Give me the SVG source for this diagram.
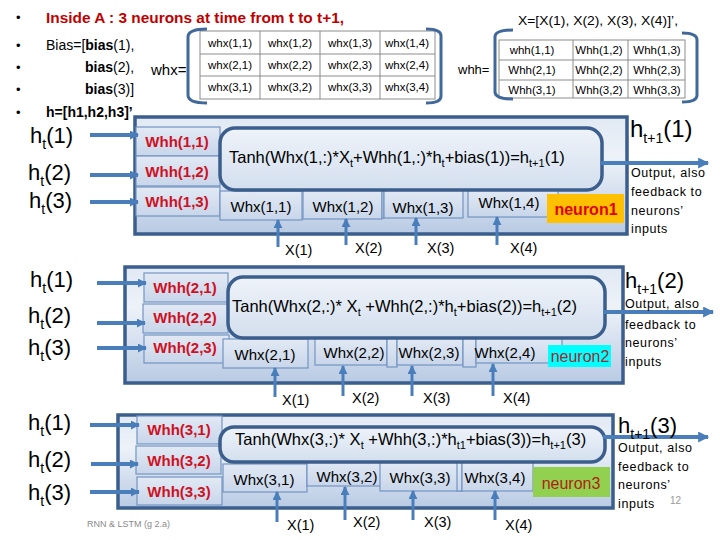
<svg xmlns="http://www.w3.org/2000/svg" width="720" height="540" viewBox="0 0 720 540">
<defs>
<linearGradient id="boxg" x1="0" y1="0" x2="0" y2="1">
<stop offset="0" stop-color="#E1E9F4"/><stop offset="0.35" stop-color="#EDF2F8"/><stop offset="1" stop-color="#B8CAE3"/>
</linearGradient>
<linearGradient id="rrg" x1="0" y1="0" x2="0" y2="1">
<stop offset="0" stop-color="#EEF3F9"/><stop offset="1" stop-color="#D3DFEE"/>
</linearGradient>
<linearGradient id="cellg" x1="0" y1="0" x2="0" y2="1">
<stop offset="0" stop-color="#E2E9F4"/><stop offset="1" stop-color="#C8D6EA"/>
</linearGradient>
<marker id="ah" viewBox="0 0 10 10" refX="9" refY="5" markerWidth="9" markerHeight="9" markerUnits="userSpaceOnUse" orient="auto"><path d="M0,0 L10,5 L0,10 z" fill="#4A7EBB"/></marker>
<marker id="ahL" viewBox="0 0 10 10" refX="9" refY="5" markerWidth="13" markerHeight="11" markerUnits="userSpaceOnUse" orient="auto"><path d="M0,0 L10,5 L0,10 z" fill="#4A7EBB"/></marker>
<style>
text{font-family:"Liberation Sans",Arial,sans-serif;fill:#000}
.hd{font-size:14px}
.b{font-weight:bold}
.mt{font-size:11.5px;text-anchor:middle}
.mx{fill:#fff;stroke:#8C8C8C;stroke-width:1}
.brk{fill:none;stroke:#41689A;stroke-width:3}
.box{fill:url(#boxg);stroke:#3B5E8C;stroke-width:3.5}
.rr{fill:url(#rrg);stroke:#3B5E8C;stroke-width:3.5}
.cell{fill:url(#cellg);stroke:#7394C2;stroke-width:1.2}
.whh{font-size:15px;font-weight:bold;fill:#D0101E;text-anchor:middle}
.whx{font-size:15px;text-anchor:middle}
.tanh{font-size:16.5px}
.sub{font-size:11px}
.ht{font-size:22px}
.hs{font-size:14px}
.ho{font-size:24px}
.out{font-size:12.5px;letter-spacing:0.6px}
.xl{font-size:14.5px}
.nl{font-size:16px;font-weight:bold;text-anchor:middle}
.arr{stroke:#4A7EBB;stroke-width:4;fill:none}
.arrx{stroke:#4A7EBB;stroke-width:3;fill:none}
</style>
</defs>
<rect width="720" height="540" fill="#fff"/>

<g id="header">
<text x="16" y="22" font-size="13">•</text>
<text x="16" y="50" font-size="13">•</text>
<text x="16" y="72" font-size="13">•</text>
<text x="16" y="94" font-size="13">•</text>
<text x="16" y="117" font-size="13">•</text>
<text x="46" y="23" font-size="15" font-weight="bold" style="fill:#C00000" textLength="298" lengthAdjust="spacingAndGlyphs">Inside A : 3 neurons at time from t to t+1,</text>
<text x="46" y="50" class="hd">Bias=[<tspan class="b">bias</tspan>(1),</text>
<text x="85" y="72" class="hd"><tspan class="b">bias</tspan>(2),</text>
<text x="85" y="94" class="hd"><tspan class="b">bias</tspan>(3)]</text>
<text x="46" y="117" class="hd b">h=[h1,h2,h3]’</text>
<text x="518" y="25" font-size="13" textLength="160" lengthAdjust="spacingAndGlyphs">X=[X(1), X(2), X(3), X(4)]’,</text>
</g>

<g id="matrix-whx">
<text x="151" y="75" font-size="15">whx=</text>
<rect x="200" y="31" width="235" height="68" class="mx"/>
<line x1="200" y1="54" x2="435" y2="54" stroke="#8C8C8C"/>
<line x1="200" y1="76" x2="435" y2="76" stroke="#8C8C8C"/>
<line x1="260" y1="31" x2="260" y2="99" stroke="#8C8C8C"/>
<line x1="320" y1="31" x2="320" y2="99" stroke="#8C8C8C"/>
<line x1="380" y1="31" x2="380" y2="99" stroke="#8C8C8C"/>
<text class="mt" x="230" y="47">whx(1,1)</text><text class="mt" x="290" y="47">whx(1,2)</text><text class="mt" x="350" y="47">whx(1,3)</text><text class="mt" x="407" y="47">whx(1,4)</text>
<text class="mt" x="230" y="69">whx(2,1)</text><text class="mt" x="290" y="69">whx(2,2)</text><text class="mt" x="350" y="69">whx(2,3)</text><text class="mt" x="407" y="69">whx(2,4)</text>
<text class="mt" x="230" y="91">whx(3,1)</text><text class="mt" x="290" y="91">whx(3,2)</text><text class="mt" x="350" y="91">whx(3,3)</text><text class="mt" x="407" y="91">whx(3,4)</text>
<path class="brk" d="M207,29 Q188,29 188,37 L188,95 Q188,103 207,103"/>
<path class="brk" d="M426,29 Q441,29 441,36 L441,96 Q441,103 426,103"/>
</g>

<g id="matrix-whh">
<text x="458" y="74" font-size="13">whh=</text>
<rect x="499" y="40" width="186" height="58" class="mx"/>
<line x1="499" y1="60" x2="685" y2="60" stroke="#8C8C8C"/>
<line x1="499" y1="80" x2="685" y2="80" stroke="#8C8C8C"/>
<line x1="573" y1="40" x2="573" y2="98" stroke="#8C8C8C"/>
<line x1="628" y1="40" x2="628" y2="98" stroke="#8C8C8C"/>
<text class="mt" x="532" y="54">whh(1,1)</text><text class="mt" x="599" y="54">Whh(1,2)</text><text class="mt" x="657" y="54">Whh(1,3)</text>
<text class="mt" x="532" y="74">Whh(2,1)</text><text class="mt" x="599" y="74">Whh(2,2)</text><text class="mt" x="657" y="74">Whh(2,3)</text>
<text class="mt" x="532" y="94">Whh(3,1)</text><text class="mt" x="599" y="94">Whh(3,2)</text><text class="mt" x="657" y="94">Whh(3,3)</text>
<path class="brk" d="M513,30 Q495,30 495,37 L495,92 Q495,99 513,99"/>
<path class="brk" d="M682,33 Q697,33 697,40 L697,95 Q697,102 682,102"/>
</g>

<g id="neuron1">
<rect x="135" y="117" width="492" height="117" class="box"/>
<rect x="136" y="127" width="84" height="29" class="cell"/>
<rect x="136" y="156" width="84" height="30" class="cell"/>
<rect x="136" y="187" width="84" height="29" class="cell"/>
<rect x="220" y="191" width="82" height="29" class="cell"/>
<rect x="303" y="190" width="79" height="29" class="cell"/>
<rect x="382" y="190" width="2" height="28" class="cell"/>
<rect x="384" y="190" width="79" height="28" class="cell"/>
<rect x="468" y="190" width="90" height="27" class="cell"/>
<rect x="220" y="128" width="382" height="62" rx="15" class="rr"/>
<rect x="547" y="194" width="77" height="29" fill="#FFC000"/>
<text class="whh" x="177" y="147">Whh(1,1)</text>
<text class="whh" x="177" y="177">Whh(1,2)</text>
<text class="whh" x="177" y="207">Whh(1,3)</text>
<text class="whx" x="261" y="212">Whx(1,1)</text>
<text class="whx" x="343" y="212">Whx(1,2)</text>
<text class="whx" x="423" y="213">Whx(1,3)</text>
<text class="whx" x="509" y="208">Whx(1,4)</text>
<text class="nl" x="586" y="215" style="fill:#E00000">neuron1</text>
<text x="229" y="163" class="tanh">Tanh(Whx(1,:)*X<tspan class="sub" dy="4">t</tspan><tspan dy="-4">+Whh(1,:)*h</tspan><tspan class="sub" dy="4">t</tspan><tspan dy="-4">+bias(1))=h</tspan><tspan class="sub" dy="4">t+1</tspan><tspan dy="-4">(1)</tspan></text>
</g>

<g id="neuron2">
<rect x="125" y="267" width="498" height="116" class="box"/>
<rect x="144" y="273" width="84" height="29" class="cell"/>
<rect x="143" y="304" width="85" height="29" class="cell"/>
<rect x="144" y="335" width="85" height="28" class="cell"/>
<rect x="223" y="339" width="85" height="29" class="cell"/>
<rect x="315" y="338" width="72" height="27" class="cell"/>
<rect x="387" y="338" width="10" height="29" class="cell"/>
<rect x="397" y="338" width="66" height="27" class="cell"/>
<rect x="463" y="338" width="13" height="29" class="cell"/>
<rect x="476" y="338" width="86" height="25" class="cell"/>
<rect x="228" y="277" width="377" height="61" rx="15" class="rr"/>
<rect x="548" y="345" width="63" height="22" fill="#00FFFF"/>
<text class="whh" x="185" y="293">Whh(2,1)</text>
<text class="whh" x="185" y="323">Whh(2,2)</text>
<text class="whh" x="185" y="353">Whh(2,3)</text>
<text class="whx" x="265" y="360">Whx(2,1)</text>
<text class="whx" x="354" y="358">Whx(2,2)</text>
<text class="whx" x="429" y="358">Whx(2,3)</text>
<text class="whx" x="505" y="358">Whx(2,4)</text>
<text class="nl" x="580" y="362" style="fill:#A8282E;font-weight:normal">neuron2</text>
<text x="232" y="312" class="tanh">Tanh(Whx(2,:)* X<tspan class="sub" dy="4">t</tspan><tspan dy="-4"> +Whh(2,:)*h</tspan><tspan class="sub" dy="4">t</tspan><tspan dy="-4">+bias(2))=h</tspan><tspan class="sub" dy="4">t+1</tspan><tspan dy="-4">(2)</tspan></text>
</g>

<g id="neuron3">
<rect x="118" y="415" width="495" height="93" class="box"/>
<rect x="137" y="416" width="85" height="28" class="cell"/>
<rect x="136" y="446" width="85" height="28" class="cell"/>
<rect x="137" y="477" width="85" height="28" class="cell"/>
<rect x="223" y="464" width="84" height="28" class="cell"/>
<rect x="307" y="460" width="85" height="26" class="cell"/>
<rect x="380" y="462" width="82" height="29" class="cell"/>
<rect x="457" y="462" width="5" height="29" class="cell"/>
<rect x="462" y="462" width="71" height="29" class="cell"/>
<rect x="220" y="427" width="385" height="35" rx="14" class="rr"/>
<rect x="533" y="467" width="77" height="30" fill="#92D050"/>
<text class="whh" x="179" y="435">Whh(3,1)</text>
<text class="whh" x="179" y="466">Whh(3,2)</text>
<text class="whh" x="179" y="497">Whh(3,3)</text>
<text class="whx" x="264" y="485">Whx(3,1)</text>
<text class="whx" x="347" y="482">Whx(3,2)</text>
<text class="whx" x="420" y="483">Whx(3,3)</text>
<text class="whx" x="495" y="483">Whx(3,4)</text>
<text class="nl" x="571" y="489" style="fill:#B01E14;font-weight:normal">neuron3</text>
<text x="235" y="445" class="tanh">Tanh(Whx(3,:)* X<tspan class="sub" dy="4">t</tspan><tspan dy="-4"> +Whh(3,:)*h</tspan><tspan class="sub" dy="4">t1</tspan><tspan dy="-4">+bias(3))=h</tspan><tspan class="sub" dy="4">t+1</tspan><tspan dy="-4">(3)</tspan></text>
</g>

<g id="connectors">
<line class="arr" x1="90" y1="135" x2="138" y2="135" marker-end="url(#ah)"/>
<line class="arr" x1="90" y1="175" x2="138" y2="175" marker-end="url(#ah)"/>
<line class="arr" x1="90" y1="202" x2="138" y2="202" marker-end="url(#ah)"/>
<line class="arr" x1="97" y1="283" x2="146" y2="283" marker-end="url(#ah)"/>
<line class="arr" x1="97" y1="323" x2="145" y2="323" marker-end="url(#ah)"/>
<line class="arr" x1="97" y1="348" x2="146" y2="348" marker-end="url(#ah)"/>
<line class="arr" x1="90" y1="425" x2="139" y2="425" marker-end="url(#ah)"/>
<line class="arr" x1="91" y1="464" x2="138" y2="464" marker-end="url(#ah)"/>
<line class="arr" x1="90" y1="492" x2="139" y2="492" marker-end="url(#ah)"/>
<line class="arrx" x1="278" y1="247" x2="278" y2="220" marker-end="url(#ah)"/>
<line class="arrx" x1="346" y1="245" x2="346" y2="219" marker-end="url(#ah)"/>
<line class="arrx" x1="416" y1="245" x2="416" y2="218" marker-end="url(#ah)"/>
<line class="arrx" x1="497" y1="245" x2="497" y2="217" marker-end="url(#ah)"/>
<line class="arrx" x1="275" y1="397" x2="275" y2="368" marker-end="url(#ah)"/>
<line class="arrx" x1="343" y1="396" x2="343" y2="366" marker-end="url(#ah)"/>
<line class="arrx" x1="412" y1="396" x2="412" y2="366" marker-end="url(#ah)"/>
<line class="arrx" x1="493" y1="396" x2="493" y2="364" marker-end="url(#ah)"/>
<line class="arrx" x1="277" y1="522" x2="277" y2="492" marker-end="url(#ah)"/>
<line class="arrx" x1="345" y1="520" x2="345" y2="487" marker-end="url(#ah)"/>
<line class="arrx" x1="413" y1="520" x2="413" y2="491" marker-end="url(#ah)"/>
<line class="arrx" x1="495" y1="520" x2="495" y2="491" marker-end="url(#ah)"/>
<line class="arr" x1="600" y1="163" x2="708" y2="163" marker-end="url(#ahL)"/>
<line class="arr" x1="603" y1="312" x2="713" y2="312" marker-end="url(#ahL)"/>
<line class="arr" x1="603" y1="437" x2="708" y2="437" marker-end="url(#ahL)"/>
</g>

<g id="labels">
<text class="ht" x="30" y="143">h<tspan class="hs" dy="6">t</tspan><tspan dy="-6">(1)</tspan></text>
<text class="ht" x="28" y="180">h<tspan class="hs" dy="6">t</tspan><tspan dy="-6">(2)</tspan></text>
<text class="ht" x="29" y="208">h<tspan class="hs" dy="6">t</tspan><tspan dy="-6">(3)</tspan></text>
<text class="ht" x="30" y="287">h<tspan class="hs" dy="6">t</tspan><tspan dy="-6">(1)</tspan></text>
<text class="ht" x="28" y="323">h<tspan class="hs" dy="6">t</tspan><tspan dy="-6">(2)</tspan></text>
<text class="ht" x="28" y="355">h<tspan class="hs" dy="6">t</tspan><tspan dy="-6">(3)</tspan></text>
<text class="ht" x="28" y="430">h<tspan class="hs" dy="6">t</tspan><tspan dy="-6">(1)</tspan></text>
<text class="ht" x="28" y="467">h<tspan class="hs" dy="6">t</tspan><tspan dy="-6">(2)</tspan></text>
<text class="ht" x="28" y="500">h<tspan class="hs" dy="6">t</tspan><tspan dy="-6">(3)</tspan></text>

<text class="xl" x="285" y="255">X(1)</text><text class="xl" x="355" y="253">X(2)</text><text class="xl" x="427" y="253">X(3)</text><text class="xl" x="510" y="253">X(4)</text>
<text class="xl" x="282" y="405">X(1)</text><text class="xl" x="352" y="403">X(2)</text><text class="xl" x="423" y="403">X(3)</text><text class="xl" x="503" y="403">X(4)</text>
<text class="xl" x="287" y="530">X(1)</text><text class="xl" x="353" y="527">X(2)</text><text class="xl" x="424" y="527">X(3)</text><text class="xl" x="505" y="530">X(4)</text>

<text class="ho" x="630" y="137">h<tspan class="hs" dy="6">t+1</tspan><tspan dy="-6">(1)</tspan></text>
<text class="out" x="631" y="177">Output, also</text>
<text class="out" x="631" y="196">feedback to</text>
<text class="out" x="631" y="215">neurons’</text>
<text class="out" x="631" y="233">inputs</text>

<text class="ho" x="625" y="288" style="font-size:22px">h<tspan class="hs" dy="6">t+1</tspan><tspan dy="-6">(2)</tspan></text>
<text class="out" x="625" y="308">Output, also</text>
<text class="out" x="625" y="329">feedback to</text>
<text class="out" x="625" y="347">neurons’</text>
<text class="out" x="625" y="366">inputs</text>

<text class="ho" x="618" y="433" style="font-size:22px">h<tspan class="hs" dy="6">t+1</tspan><tspan dy="-6">(3)</tspan></text>
<text class="out" x="618" y="452">Output, also</text>
<text class="out" x="618" y="471">feedback to</text>
<text class="out" x="618" y="489">neurons’</text>
<text class="out" x="618" y="508">inputs</text>
<text x="670" y="504" font-size="10" style="fill:#999">12</text>
<text x="87" y="527" font-size="9" style="fill:#8A8A8A">RNN &amp; LSTM (g 2.a)</text>
</g>
</svg>
